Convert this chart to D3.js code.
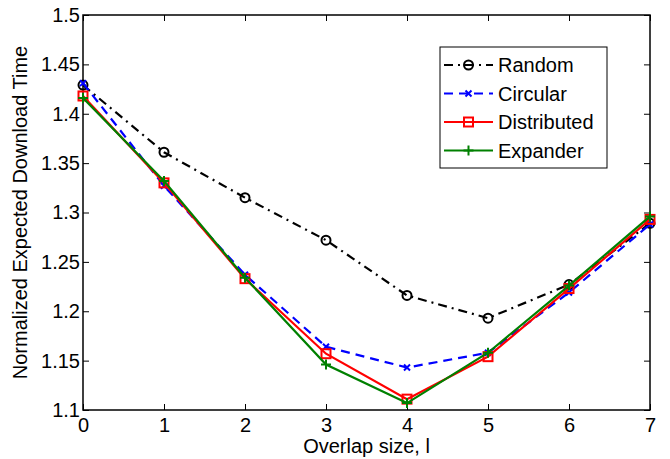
<!DOCTYPE html>
<html>
<head>
<meta charset="utf-8">
<script src="https://cdn.jsdelivr.net/npm/d3@7"></script>
<style>
  body { margin: 0; background: #fff; }
  text { font-family: "Liberation Sans", Arial, sans-serif; }
</style>
</head>
<body>
<svg id="chart"></svg>
<script>
const overlap = [0, 1, 2, 3, 4, 5, 6, 7];
const random = [1.429, 1.361, 1.315, 1.272, 1.216, 1.193, 1.227, 1.289];
const circular = [1.431, 1.327, 1.237, 1.164, 1.143, 1.158, 1.219, 1.288];
const distributed = [1.418, 1.330, 1.233, 1.157, 1.111, 1.154, 1.223, 1.293];
const expander = [1.416, 1.332, 1.234, 1.146, 1.107, 1.158, 1.226, 1.296];
const yTicks = [1.1, 1.15, 1.2, 1.25, 1.3, 1.35, 1.4, 1.45, 1.5];
const seriesNames = ["Random", "Circular", "Distributed", "Expander"];

const svgWidth = 670;
const svgHeight = 459;
const margin = { top: 15, right: 20, bottom: 49, left: 83 };
const fontSize = 20;

const svg = d3.select("#chart")
  .attr("width", svgWidth)
  .attr("height", svgHeight);

const xScale = d3.scaleLinear()
  .domain([0, 7])
  .range([margin.left, svgWidth - margin.right]);

const yScale = d3.scaleLinear()
  .domain([1.1, 1.5])
  .range([svgHeight - margin.bottom, margin.top]);

const x0 = xScale.range()[0], x1 = xScale.range()[1];
const y0 = yScale.range()[0], y1 = yScale.range()[1];

// inward ticks on all four sides, MATLAB style
const fmtY = d => String(+d.toFixed(2));
svg.append("g")
  .attr("transform", `translate(0,${y0})`)
  .call(d3.axisBottom(xScale).tickValues(overlap).tickFormat(d3.format("d"))
    .tickSizeInner(-6).tickSizeOuter(0).tickPadding(8))
  .call(g => g.select(".domain").remove());
svg.append("g")
  .attr("transform", `translate(0,${y1})`)
  .call(d3.axisTop(xScale).tickValues(overlap).tickSizeInner(-6).tickSizeOuter(0).tickFormat(""))
  .call(g => g.select(".domain").remove());
svg.append("g")
  .attr("transform", `translate(${x0},0)`)
  .call(d3.axisLeft(yScale).tickValues(yTicks).tickFormat(fmtY)
    .tickSizeInner(-6).tickSizeOuter(0).tickPadding(3))
  .call(g => g.select(".domain").remove());
svg.append("g")
  .attr("transform", `translate(${x1},0)`)
  .call(d3.axisRight(yScale).tickValues(yTicks).tickSizeInner(-6).tickSizeOuter(0).tickFormat(""))
  .call(g => g.select(".domain").remove());

svg.selectAll(".tick text")
  .attr("font-size", fontSize)
  .attr("font-family", "Liberation Sans, Arial, sans-serif")
  .attr("fill", "#000");
svg.selectAll(".tick line").attr("stroke", "#000");

svg.append("rect")
  .attr("x", x0).attr("y", y1)
  .attr("width", x1 - x0).attr("height", y0 - y1)
  .attr("fill", "none").attr("stroke", "#000").attr("stroke-width", 1.5);

const series = [
  { name: "Random", values: random, color: "#000", dash: "9,5,2,5", marker: "circle" },
  { name: "Circular", values: circular, color: "#0000ff", dash: "9,6", marker: "x" },
  { name: "Distributed", values: distributed, color: "#ff0000", dash: null, marker: "square" },
  { name: "Expander", values: expander, color: "#008000", dash: null, marker: "plus" }
];

const line = d3.line()
  .x((d, i) => xScale(overlap[i]))
  .y(d => yScale(d));

function drawMarker(g, type, x, y, color) {
  if (type === "circle") {
    g.append("circle").attr("cx", x).attr("cy", y).attr("r", 4.5)
      .attr("fill", "none").attr("stroke", color).attr("stroke-width", 2);
  } else if (type === "square") {
    g.append("rect").attr("x", x - 4.5).attr("y", y - 4.5).attr("width", 9).attr("height", 9)
      .attr("fill", "none").attr("stroke", color).attr("stroke-width", 2);
  } else if (type === "plus") {
    g.append("path").attr("d", `M${x - 5},${y}H${x + 5}M${x},${y - 5}V${y + 5}`)
      .attr("stroke", color).attr("stroke-width", 2);
  } else if (type === "x") {
    g.append("path").attr("d", `M${x - 3},${y - 3}L${x + 3},${y + 3}M${x - 3},${y + 3}L${x + 3},${y - 3}`)
      .attr("stroke", color).attr("stroke-width", 2);
  }
}

series.forEach(s => {
  const g = svg.append("g");
  g.append("path")
    .datum(s.values)
    .attr("d", line)
    .attr("fill", "none")
    .attr("stroke", s.color)
    .attr("stroke-width", 2.2)
    .attr("stroke-dasharray", s.dash);
  s.values.forEach((v, i) => drawMarker(g, s.marker, xScale(overlap[i]), yScale(v), s.color));
});

// legend
const legend = svg.append("g");
legend.append("rect")
  .attr("x", 440).attr("y", 47).attr("width", 167).attr("height", 121)
  .attr("fill", "#fff").attr("stroke", "#000").attr("stroke-width", 1);
series.forEach((s, i) => {
  const ly = 65 + i * 28.5;
  legend.append("line")
    .attr("x1", 444).attr("x2", 493).attr("y1", ly).attr("y2", ly)
    .attr("stroke", s.color).attr("stroke-width", 2.2)
    .attr("stroke-dasharray", s.dash);
  drawMarker(legend, s.marker, 468.5, ly, s.color);
  legend.append("text")
    .attr("x", 498).attr("y", ly)
    .attr("dy", "0.36em")
    .attr("font-size", fontSize)
    .text(seriesNames[i]);
});

svg.append("text")
  .attr("x", (x0 + x1) / 2)
  .attr("y", 453)
  .attr("text-anchor", "middle")
  .attr("font-size", fontSize)
  .text("Overlap size, l");

svg.append("text")
  .attr("transform", `translate(27,${(y0 + y1) / 2}) rotate(-90)`)
  .attr("text-anchor", "middle")
  .attr("font-size", fontSize)
  .text("Normalized Expected Download Time");
</script>
</body>
</html>
